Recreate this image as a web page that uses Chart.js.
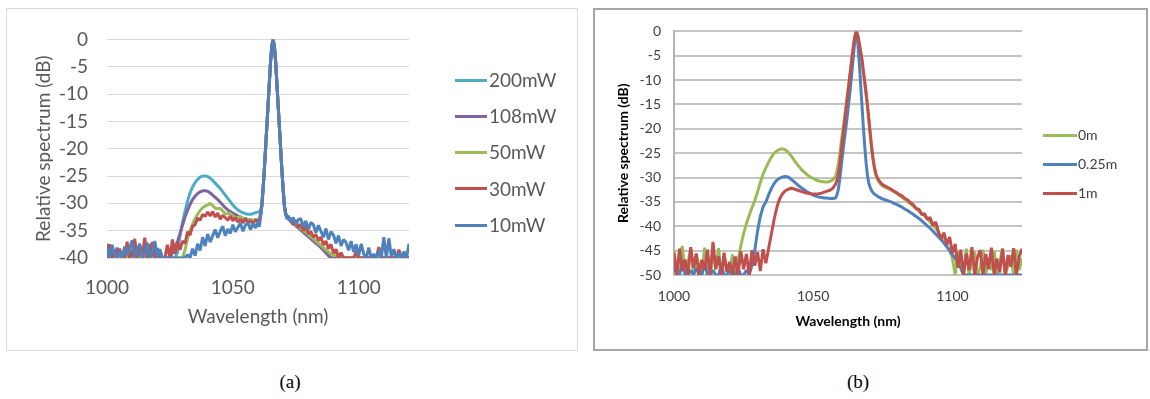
<!DOCTYPE html>
<html>
<head>
<meta charset="utf-8">
<script src="https://cdn.jsdelivr.net/npm/chart.js@4/dist/chart.umd.min.js"></script>
<style>
  body { margin: 0; width: 1150px; height: 399px; background: #fff; position: relative; overflow: hidden; font-family: Lato, sans-serif; }
  .panel { position: absolute; box-sizing: border-box; background: #fff; }
  #panelA { left: 6px; top: 8px; width: 572px; height: 343px; border: 1px solid #d9d9d9; }
  #panelB { left: 593px; top: 8px; width: 555px; height: 343px; border: 2px solid #a6a6a6; }
  .panel canvas { position: absolute; left: 0; top: 0; }
  .swatch { position: absolute; }
  .entry { position: absolute; white-space: nowrap; }
  .caption { position: absolute; top: 371px; width: 60px; text-align: center; font-family: 'Liberation Serif', serif; font-size: 19px; color: #000; }
</style>
</head>
<body>
<div class="panel" id="panelA"><canvas id="chartA" width="570" height="341"></canvas></div>
<div class="panel" id="panelB"><canvas id="chartB" width="551" height="339"></canvas></div>
<div class="caption" style="left:260px">(a)</div>
<div class="caption" style="left:828px">(b)</div>

<script>
// (a) spectra for different pump powers, wavelength in nm, level in dB
const waveA = [
  1000,1001,1002,1003,1004,1005,1006,1007,1008,1009,
  1010,1011,1012,1013,1014,1015,1016,1017,1018,1019,
  1020,1021,1022,1023,1024,1025,1026,1027,1028,1029,
  1030,1031,1032,1033,1034,1035,1036,1037,1038,1039,
  1040,1041,1042,1043,1044,1045,1046,1047,1048,1049,
  1050,1051,1052,1053,1054,1055,1056,1057,1058,1059,
  1060,1060.5,1061,1061.5,1062,1062.5,1063,1063.5,1064,1064.5,1065,1065.5,1066,
  1066.5,1067,1067.5,1068,1068.5,1069,1069.5,1070,1070.5,1071,1071.5,1072,
  1073,1074,1075,1076,1077,1078,1079,1080,1081,1082,
  1083,1084,1085,1086,1087,1088,1089,1090,1091,1092,
  1093,1094,1095,1096,1097,1098,1099,1100,1101,1102,
  1103,1104,1105,1106,1107,1108,1109,1110,1111,1112,
  1113,1114,1115,1116,1117,1118,1119,1120
];

const p200 = [
  -37.6,-40,-40,-40,-39.2,-40,-40,-40,-40,-40,
  -40,-40,-40,-39,-40,-40,-40,-40,-40,-40,
  -40,-40,-40,-40,-40,-40,-40,-40,-39,-36,
  -33.5,-31.5,-29.6,-28.1,-27,-26.2,-25.6,-25.2,-25,-25,
  -25.1,-25.4,-25.8,-26.3,-26.8,-27.3,-27.9,-28.5,-29.1,-29.7,
  -30.3,-30.8,-31.2,-31.5,-31.7,-31.9,-32,-32,-31.9,-31.7,
  -31.6,-31.5,-31.2,-30.5,-27.5,-24,-20,-16,-12,-8,-4,-1.2,0,
  -1.2,-4,-8,-12,-16,-20,-24,-27.5,-30.5,-31.8,-32.2,-32.5,
  -33,-33.4,-33.8,-34.2,-34.6,-35,-35.4,-35.8,-36.2,-36.6,
  -37,-37.4,-37.8,-38.3,-38.8,-39.3,-39.8,-40,-40,-40,
  -40,-40,-40,-40,-40,-40,-40,-40,-40,-40,
  -40,-40,-40,-40,-40,-40,-40,-40,-40,-40,
  -40,-40,-40,-40,-40,-40,-40,-40
];

const p108 = [
  -37.4,-40,-40,-40,-38.1,-40,-39,-40,-40,-38.5,
  -40,-40,-40,-40,-39.3,-40,-40,-37.5,-40,-40,
  -38.2,-40,-40,-40,-40,-40,-39,-38,-37,-35.5,
  -34,-32.5,-31.3,-30.2,-29.3,-28.7,-28.2,-27.9,-27.7,-27.7,
  -27.8,-28.1,-28.5,-28.9,-29.3,-29.8,-30.3,-30.8,-31.2,-31.5,
  -31.8,-32,-32.3,-32.5,-32.7,-32.8,-33,-33,-33.2,-33,
  -33,-32.8,-32,-30.5,-27.5,-24,-20,-16,-12,-8,-4,-1.2,0,
  -1.2,-4,-8,-12,-16,-20,-24,-27.5,-30.5,-32,-32.5,-32.8,
  -33.3,-33.7,-34.1,-34.5,-34.9,-35.3,-35.7,-36.1,-36.5,-36.9,
  -37.3,-37.7,-38.1,-38.6,-39.1,-39.6,-40,-40,-40,-40,
  -40,-40,-40,-40,-40,-40,-40,-40,-40,-40,
  -40,-40,-40,-40,-40,-40,-40,-40,-40,-40,
  -40,-40,-40,-38.8,-40,-40,-40,-40
];

const p50 = [
  -40,-40,-40,-40,-40,-40,-40,-39,-40,-40,
  -40,-40,-40,-40,-40,-40,-40,-40,-40,-40,
  -40,-40,-40,-40,-40,-40,-40,-40,-40,-40,
  -40,-38.5,-36.5,-35,-33.8,-32.8,-32,-31.3,-30.8,-30.5,
  -30.3,-30,-30.4,-30.9,-31,-30.9,-31.4,-31.9,-31.9,-31.8,
  -32.3,-32.6,-32.6,-32.4,-32.8,-32.9,-33,-33,-33.1,-33,
  -33,-32.9,-32.2,-30.5,-27.5,-24,-20,-16,-12,-8,-4,-1.2,0,
  -1.2,-4,-8,-12,-16,-20,-24,-27.5,-30.5,-32.1,-32.5,-32.7,
  -33.2,-33.5,-33.9,-34.2,-34.6,-35,-35.3,-35.7,-36.1,-36.5,
  -36.9,-37.3,-37.7,-38.1,-38.5,-38.9,-39.3,-39.6,-39.2,-40,
  -39.5,-40,-40,-40,-40,-40,-40,-40,-40,-40,
  -40,-40,-40,-40,-40,-40,-40,-40,-40,-40,
  -40,-40,-40,-40,-40,-40,-40,-40
];

const p30 = [
  -40,-37.5,-40,-39,-40,-38.3,-40,-40,-37,-40,
  -39.2,-36.5,-40,-37.8,-40,-36.3,-40,-38.7,-37.1,-40,
  -39.5,-40,-40,-40,-37.6,-40,-36.6,-39.2,-37.1,-38.5,
  -36.9,-37.3,-35.2,-35.8,-34.2,-33.9,-32.7,-33.1,-32,-32.4,
  -31.6,-32.3,-31.5,-32.5,-31.8,-32.9,-32.2,-32.6,-33.1,-32.3,
  -33.2,-32.6,-33.4,-32.9,-33.6,-32.8,-33.5,-33.2,-33.7,-33.1,
  -33.2,-33.5,-32.4,-30.5,-27.5,-24,-20,-16,-12,-8,-4,-1.2,0,
  -1.2,-4,-8,-12,-16,-20,-24,-27.5,-30.5,-32,-32.6,-32.4,
  -33.2,-33.9,-33.1,-34.4,-33.8,-35,-34.2,-35.6,-35.1,-36.2,
  -35.7,-36.8,-36.2,-37.6,-36.9,-38.3,-37.5,-39.1,-38.4,-40,
  -39,-40,-40,-40,-40,-40,-38.8,-40,-40,-40,
  -40,-40,-40,-40,-40,-38,-40,-40,-40,-40,
  -40,-40,-40,-38.5,-40,-40,-40,-40
];

const p10 = [
  -38.2,-40,-37.6,-39.4,-40,-38.8,-40,-37.9,-39.5,-38.3,
  -36.8,-40,-38.6,-37.4,-40,-39.1,-37.2,-40,-38.9,-36.9,
  -40,-38.4,-40,-40,-40,-40,-40,-40,-40,-40,
  -40,-40,-39.4,-40,-38.3,-39.6,-37.4,-38.6,-36.2,-37.8,
  -35.6,-37.1,-35.9,-34.8,-36.3,-35.1,-34.2,-35.9,-34.7,-35.5,
  -33.9,-35.2,-34.4,-33.6,-35.1,-34,-33.5,-34.8,-33.7,-34.5,
  -33.4,-34.3,-32.5,-30.5,-27.5,-24,-20,-16,-12,-8,-4,-1.2,0,
  -1.2,-4,-8,-12,-16,-20,-24,-27.5,-30.5,-31.8,-32.9,-32.3,
  -33.4,-32.6,-33.9,-33,-32.8,-34.3,-33.2,-34.8,-33.5,-33.9,
  -35.4,-34,-35.1,-36.2,-34.6,-36.6,-35.2,-35.8,-37.3,-35.9,
  -37.8,-36.6,-37.2,-38.6,-36.9,-38.9,-37.5,-39.6,-37.4,-39.2,
  -40,-38.1,-40,-39.3,-40,-38.6,-40,-36.2,-40,-36.4,
  -39.8,-38.4,-40,-39.1,-40,-38.8,-40,-37.4
];

// (b) spectra after different fibre lengths
const waveB = [
  1000,1001,1002,1003,1004,1005,1006,1007,1008,1009,
  1010,1011,1012,1013,1014,1015,1016,1017,1018,1019,
  1020,1021,1022,1023,1024,1025,1026,1027,1028,1029,
  1030,1031,1032,1033,1034,1035,1036,1037,1038,1039,
  1040,1041,1042,1043,1044,1045,1046,1047,1048,1049,
  1050,1051,1052,1053,1054,1055,1056,1057,
  1058,1058.5,1059,1059.5,1060,1060.5,1061,1061.5,1062,1062.5,
  1063,1063.5,1064,1064.5,1065,1065.5,1066,1066.5,1067,1067.5,
  1068,1068.5,1069,1069.5,1070,1070.5,1071,1071.5,1072,1072.5,
  1073,1073.5,1074,1074.5,1075,
  1076,1077,1078,1079,1080,1081,1082,1083,1084,1085,
  1086,1087,1088,1089,1090,1091,1092,1093,1094,1095,
  1096,1097,1098,1099,1100,1101,1102,1103,1104,1105,
  1106,1107,1108,1109,1110,1111,1112,1113,1114,1115,
  1116,1117,1118,1119,1120,1121,1122,1123,1124,1125
];

const len0 = [
  -44.8,-50,-46.2,-44.1,-50,-47.5,-44.6,-50,-45.9,-48.3,
  -50,-44.4,-47.8,-50,-45.2,-49,-44.5,-50,-46.7,-48.9,
  -50,-45.8,-50,-47,-44,-41.5,-39.5,-37.8,-36.2,-34.7,
  -33,-31,-29.3,-28,-26.8,-25.8,-25,-24.5,-24.2,-24.1,
  -24.3,-24.8,-25.5,-26.3,-27.1,-27.8,-28.5,-29,-29.5,-29.9,
  -30.2,-30.5,-30.7,-30.8,-30.9,-30.9,-30.8,-30.5,
  -29.8,-28.8,-27.3,-25.3,-23,-20.8,-18.8,-16.5,-14.2,-12,
  -9.8,-7.5,-5.2,-3,-1,0,-0.9,-2.5,-4.3,-6,
  -8.5,-10.6,-13,-15.5,-18.5,-21.5,-24.2,-26.4,-28.2,-29.5,
  -30.3,-30.8,-31.2,-31.5,-31.8,
  -32,-32.3,-32.6,-32.9,-33.3,-33.7,-34.1,-34.5,-35,-35.4,
  -35.9,-36.4,-36.9,-37.4,-37.9,-38.5,-39.1,-39.8,-40.4,-41.2,
  -42.3,-43.2,-44,-45,-46.5,-50,-45.1,-48,-50,-44.6,
  -50,-47,-45.2,-50,-48.5,-44.8,-50,-46.5,-49,-45,
  -50,-47.5,-44.5,-50,-48,-46,-50,-44.8,-49,-46.5
];

const len025 = [
  -48,-50,-50,-47,-50,-50,-49,-50,-48.5,-50,
  -50,-47.5,-50,-50,-49,-50,-50,-48,-50,-50,
  -49,-50,-50,-48.5,-50,-50,-49,-50,-48,-45,
  -41,-38,-36,-35,-33.5,-32.2,-31.2,-30.5,-30.1,-29.9,
  -29.8,-29.9,-30.3,-30.8,-31.3,-31.8,-32.2,-32.6,-33,-33.3,
  -33.6,-33.8,-34,-34.1,-34.2,-34.2,-34.3,-34.3,
  -34.2,-33.6,-32.5,-30.5,-28,-25.5,-23,-20.8,-18.5,-16,
  -13.5,-10.8,-7.8,-4.6,-1.6,0,-2.2,-6,-10.5,-15,
  -19.5,-23.5,-27,-29.6,-31.2,-32.1,-32.7,-33.1,-33.4,-33.6,
  -33.8,-34,-34.1,-34.3,-34.4,
  -34.6,-34.8,-35,-35.3,-35.5,-35.8,-36.1,-36.5,-36.8,-37.2,
  -37.6,-38,-38.4,-38.9,-39.4,-39.9,-40.4,-41,-41.6,-42.2,
  -42.8,-43.5,-44.2,-45,-45.8,-46.6,-47.5,-48.6,-50,-50,
  -50,-50,-50,-50,-50,-50,-50,-50,-50,-50,
  -50,-50,-50,-50,-50,-50,-50,-50,-50,-50
];

const len1 = [
  -45.5,-50,-44.6,-49.2,-46.8,-50,-44.3,-48.5,-45.6,-50,
  -46.9,-49,-44.8,-50,-43.2,-48.7,-46.1,-50,-45.4,-49.4,
  -47.3,-50,-46.2,-50,-45.1,-48.8,-45.7,-50,-44.9,-48.1,
  -45.3,-49.2,-44.7,-47.6,-44.5,-41.5,-38.5,-36,-34.3,-33.3,
  -32.7,-32.4,-32.2,-32.3,-32.5,-32.7,-32.9,-33.1,-33.2,-33.3,
  -33.4,-33.4,-33.3,-33.2,-33,-32.8,-32.6,-32.2,
  -31.4,-30.6,-29.5,-27.5,-25,-22.5,-20,-17.5,-15,-12.5,
  -10,-7.5,-5,-2.8,-0.9,0,-0.8,-2.3,-4,-5.6,
  -8,-10.2,-12.6,-15.2,-18,-21,-23.8,-26.1,-27.9,-29.2,
  -30,-30.5,-30.9,-31.2,-31.5,
  -31.8,-32.1,-32.4,-32.8,-33.1,-33.5,-33.8,-34.3,-34.6,-35.2,
  -35.6,-36.4,-36.5,-37.6,-37.4,-38.6,-38.2,-39.9,-39.1,-41.2,
  -42.6,-41.3,-43.8,-42.2,-45.5,-43.6,-48.5,-44.8,-50,-45.6,
  -49,-44.3,-50,-46.4,-44.9,-50,-45.7,-48.8,-44.4,-50,
  -46.6,-49.5,-44.7,-50,-45.9,-48.3,-44.5,-50,-46.2,-44.6
];

Chart.defaults.font.family = 'Lato, sans-serif';
Chart.defaults.animation = false;

function toPoints(wave, values) {
  return wave.map((w, i) => ({ x: w, y: values[i] }));
}

// Excel-like plain axes: fixed axis sizes so the plot box stays put
function spectrumOptions(o) {
  return {
    responsive: false,
    layout: { padding: o.padding },
    elements: {
      point: { radius: 0 },
      line: { borderWidth: 3, tension: 0, borderJoinStyle: 'bevel' }
    },
    plugins: { legend: { display: false }, tooltip: { enabled: false } },
    scales: {
      x: {
        type: 'linear', min: 1000, max: o.xMax,
        afterFit: s => { s.height = o.xHeight; },
        grid: { display: false, drawTicks: false },
        border: { display: false },
        ticks: { stepSize: 50, includeBounds: false, padding: o.xTickPad, color: o.tickColor,
                 font: { size: o.fontSize }, callback: v => String(v) },
        title: { display: true, text: 'Wavelength (nm)', color: o.titleColor, padding: 0,
                 font: { size: o.fontSize, weight: o.titleWeight } }
      },
      y: {
        min: o.yMin, max: 0,
        afterFit: s => { s.width = o.yWidth; },
        grid: { color: o.gridColor, lineWidth: o.gridWidth, drawTicks: false },
        border: o.yBorder,
        ticks: { stepSize: 5, padding: o.yTickPad, color: o.tickColor, font: { size: o.fontSize } },
        title: { display: true, text: 'Relative spectrum (dB)', color: o.titleColor, padding: 0,
                 font: { size: o.fontSize, weight: o.titleWeight } }
      }
    }
  };
}

var chartA = new Chart(document.getElementById('chartA'), {
  type: 'line',
  data: {
    datasets: [
      { label: '200mW', data: toPoints(waveA, p200), borderColor: '#4bacc6', order: 4 },
      { label: '108mW', data: toPoints(waveA, p108), borderColor: '#8064a2', order: 3 },
      { label: '50mW', data: toPoints(waveA, p50), borderColor: '#9bbb59', order: 2 },
      { label: '30mW', data: toPoints(waveA, p30), borderColor: '#c0504d', order: 1 },
      { label: '10mW', data: toPoints(waveA, p10), borderColor: '#4f81bd', order: 0 }
    ]
  },
  options: spectrumOptions({
    padding: { left: 25, top: 21, right: 168, bottom: 22 },
    xMax: 1120, xHeight: 70, yWidth: 75, yMin: -40,
    xTickPad: 18, yTickPad: 19, fontSize: 19,
    tickColor: '#595959', titleColor: '#595959', titleWeight: 'normal',
    gridColor: '#d9d9d9', gridWidth: 1, yBorder: { display: false }
  })
});

var chartB = new Chart(document.getElementById('chartB'), {
  type: 'line',
  data: {
    datasets: [
      { label: '0m', data: toPoints(waveB, len0), borderColor: '#9bbb59', order: 2 },
      { label: '0.25m', data: toPoints(waveB, len025), borderColor: '#4f81bd', order: 1 },
      { label: '1m', data: toPoints(waveB, len1), borderColor: '#c0504d', order: 0 }
    ]
  },
  options: spectrumOptions({
    padding: { left: 20, top: 17, right: 124, bottom: 19 },
    xMax: 1125, xHeight: 55, yWidth: 59, yMin: -50,
    xTickPad: 13, yTickPad: 13, fontSize: 14,
    tickColor: '#404040', titleColor: '#000', titleWeight: 'bold',
    gridColor: '#c4c4c4', gridWidth: 2, yBorder: { display: true, color: '#b4b4b4', width: 2 }
  })
});

// legend drawn next to the plot from the chart's own datasets
function htmlLegend(chart, panelId, lg) {
  const panel = document.getElementById(panelId);
  chart.data.datasets.forEach((ds, i) => {
    const cy = lg.top + i * lg.pitch;
    const sw = document.createElement('div');
    sw.className = 'swatch';
    sw.style.cssText = `left:${lg.left}px;top:${cy - 1.5}px;width:${lg.lineWidth}px;height:3px;background:${ds.borderColor}`;
    const tx = document.createElement('div');
    tx.className = 'entry';
    tx.textContent = ds.label;
    tx.style.cssText = `left:${lg.left + lg.lineWidth + lg.gap}px;top:${cy - lg.fontSize * 0.6}px;` +
      `font-size:${lg.fontSize}px;line-height:${lg.fontSize * 1.2}px;color:${lg.color}`;
    panel.appendChild(sw);
    panel.appendChild(tx);
  });
}

htmlLegend(chartA, 'panelA', { left: 448, top: 71, pitch: 36.3, lineWidth: 32, gap: 2, fontSize: 19, color: '#595959' });
htmlLegend(chartB, 'panelB', { left: 448, top: 125, pitch: 29, lineWidth: 34, gap: 1, fontSize: 14, color: '#404040' });
</script>
</body>
</html>
